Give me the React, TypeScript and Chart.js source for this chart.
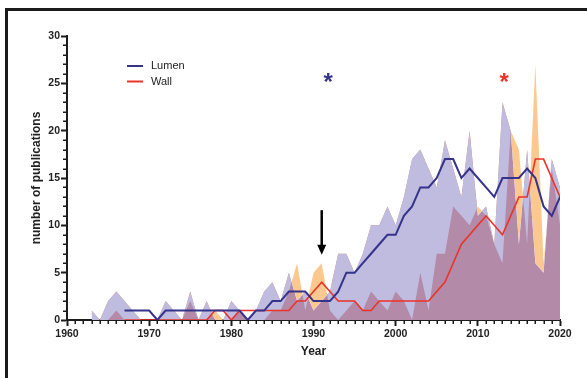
import React, { useEffect, useRef } from 'react';
import { Chart, registerables } from 'chart.js';

Chart.register(...registerables);

// ---- data ----
const countYears = [
  1963, 1964, 1965, 1966, 1967, 1968, 1969,
  1970, 1971, 1972, 1973, 1974, 1975, 1976, 1977, 1978, 1979,
  1980, 1981, 1982, 1983, 1984, 1985, 1986, 1987, 1988, 1989,
  1990, 1991, 1992, 1993, 1994, 1995, 1996, 1997, 1998, 1999,
  2000, 2001, 2002, 2003, 2004, 2005, 2006, 2007, 2008, 2009,
  2010, 2011, 2012, 2013, 2014, 2015, 2016, 2017, 2018, 2019, 2020,
];
const lumenCounts = [
  1, 0, 2, 3, 2, 1, 0,
  0, 0, 2, 1, 0, 3, 0, 2, 0, 0,
  2, 1, 0, 1, 3, 4, 2, 5, 2, 3,
  1, 2, 3, 7, 7, 5, 7, 10, 10, 12,
  10, 13, 17, 18, 16, 14, 19, 16, 13, 20,
  11, 12, 8, 23, 20, 8, 18, 6, 5, 17, 14,
];
const wallCounts = [
  0, 0, 0, 1, 0, 0, 0,
  0, 0, 0, 0, 0, 2, 0, 0, 1, 0,
  0, 1, 0, 0, 0, 1, 1, 3, 6, 1,
  5, 6, 1, 0, 1, 2, 1, 3, 2, 1,
  3, 2, 0, 5, 1, 7, 7, 12, 11, 10,
  12, 11, 8, 6, 20, 18, 8, 27, 6, 16, 10,
];
const averageYears = [
  1967, 1968, 1969,
  1970, 1971, 1972, 1973, 1974, 1975, 1976, 1977, 1978, 1979,
  1980, 1981, 1982, 1983, 1984, 1985, 1986, 1987, 1988, 1989,
  1990, 1991, 1992, 1993, 1994, 1995, 1996, 1997, 1998, 1999,
  2000, 2001, 2002, 2003, 2004, 2005, 2006, 2007, 2008, 2009,
  2010, 2011, 2012, 2013, 2014, 2015, 2016, 2017, 2018, 2019, 2020,
];
const lumenAverage = [
  1, 1, 1,
  1, 0, 1, 1, 1, 1, 1, 1, 1, 1,
  1, 1, 0, 1, 1, 2, 2, 3, 3, 3,
  2, 2, 2, 3, 5, 5, 6, 7, 8, 9,
  9, 11, 12, 14, 14, 15, 17, 17, 15, 16,
  15, 14, 13, 15, 15, 15, 16, 15, 12, 11, 13,
];
const wallAverage = [
  0, 0, 0,
  0, 0, 0, 0, 0, 0, 0, 0, 1, 1,
  0, 1, 1, 1, 1, 1, 1, 1, 2, 2,
  3, 4, 3, 2, 2, 2, 1, 1, 2, 2,
  2, 2, 2, 2, 2, 3, 4, 6, 8, 9,
  10, 11, 10, 9, 11, 13, 13, 17, 17, 15, 13,
];
const xTickValues = [1960, 1970, 1980, 1990, 2000, 2010, 2020];
const yTickValues = [0, 5, 10, 15, 20, 25, 30];
const seriesNames = ['Lumen', 'Wall'];
const asteriskYears = [1991.8, 2013.2];
const asteriskLevel = 25.8;
const arrowYear = 1991;
const arrowFrom = 11.6;
const arrowTo = 6.9;

// ---- styles ----
const NAVY = '#35338a';
const RED = '#ea3329';
const LAVENDER = '#bfbcdf';
const ORANGE = '#fbc98f';
const MAUVE = '#b38aa7';
const AXIS = '#1c1c1c';
const FONT = "'Liberation Sans', Arial, sans-serif";

const toPoints = (xs: number[], ys: number[]) => xs.map((x, i) => ({ x, y: ys[i] }));

const minorTicksPlugin = {
  id: 'minorTicks',
  afterDraw(chart: any) {
    const { ctx, scales, chartArea } = chart;
    const x = scales.x;
    const y = scales.y;
    ctx.save();
    ctx.strokeStyle = AXIS;
    ctx.lineWidth = 1.5;
    ctx.beginPath();
    for (let v = x.min; v <= x.max; v += 1) {
      if (v % 10 === 0) continue;
      const px = Math.round(x.getPixelForValue(v)) + 0.25;
      ctx.moveTo(px, chartArea.bottom);
      ctx.lineTo(px, chartArea.bottom + 4);
    }
    for (let v = y.min; v <= y.max; v += 1) {
      if (v % 5 === 0) continue;
      const py = Math.round(y.getPixelForValue(v)) + 0.25;
      ctx.moveTo(chartArea.left - 4, py);
      ctx.lineTo(chartArea.left, py);
    }
    ctx.stroke();
    ctx.restore();
  },
};

const annotationPlugin = {
  id: 'annotations',
  afterDatasetsDraw(chart: any) {
    const { ctx, scales, chartArea } = chart;
    const x = scales.x;
    const y = scales.y;
    ctx.save();
    // arrow
    const ax = x.getPixelForValue(arrowYear);
    const yTop = y.getPixelForValue(arrowFrom);
    const yTip = y.getPixelForValue(arrowTo);
    ctx.strokeStyle = '#000';
    ctx.fillStyle = '#000';
    ctx.lineWidth = 2.5;
    ctx.beginPath();
    ctx.moveTo(ax, yTop);
    ctx.lineTo(ax, yTip - 8);
    ctx.stroke();
    ctx.beginPath();
    ctx.moveTo(ax - 4.5, yTip - 10);
    ctx.lineTo(ax + 4.5, yTip - 10);
    ctx.lineTo(ax, yTip);
    ctx.closePath();
    ctx.fill();
    // asterisks
    const colors = [NAVY, RED];
    const size = 24;
    ctx.font = `bold ${size}px ${FONT}`;
    ctx.textAlign = 'center';
    ctx.textBaseline = 'alphabetic';
    asteriskYears.forEach((yr, i) => {
      ctx.fillStyle = colors[i];
      ctx.fillText('*', x.getPixelForValue(yr), y.getPixelForValue(asteriskLevel) + size * 0.58);
    });
    // legend
    const lx = chartArea.left + 60;
    const ly = chartArea.top + 30;
    const legendColors = [NAVY, RED];
    ctx.font = `11px ${FONT}`;
    ctx.textAlign = 'left';
    ctx.textBaseline = 'middle';
    seriesNames.forEach((name, i) => {
      const yy = ly + i * 15.5;
      ctx.strokeStyle = legendColors[i];
      ctx.lineWidth = 2;
      ctx.beginPath();
      ctx.moveTo(lx, yy);
      ctx.lineTo(lx + 16, yy);
      ctx.stroke();
      ctx.fillStyle = '#222';
      ctx.fillText(name, lx + 24, yy);
    });
    ctx.restore();
  },
};

export default function App() {
  const canvasRef = useRef<HTMLCanvasElement | null>(null);

  useEffect(() => {
    const canvas = canvasRef.current;
    if (!canvas) return;
    const chart = new Chart(canvas, {
      type: 'line',
      data: {
        datasets: [
          {
            label: seriesNames[0],
            data: toPoints(averageYears, lumenAverage),
            borderColor: NAVY,
            borderWidth: 2,
            pointRadius: 0,
            fill: false,
            tension: 0,
          },
          {
            label: seriesNames[1],
            data: toPoints(averageYears, wallAverage),
            borderColor: RED,
            borderWidth: 1.6,
            pointRadius: 0,
            fill: false,
            tension: 0,
          },
          {
            label: 'Wall counts',
            data: toPoints(countYears, wallCounts),
            borderWidth: 0,
            borderColor: 'rgba(0,0,0,0)',
            pointRadius: 0,
            fill: { target: '+1', above: ORANGE, below: LAVENDER },
            tension: 0,
          },
          {
            label: 'Lumen counts',
            data: toPoints(countYears, lumenCounts),
            borderWidth: 0,
            borderColor: 'rgba(0,0,0,0)',
            backgroundColor: MAUVE,
            pointRadius: 0,
            fill: 'origin',
            tension: 0,
          },
        ],
      },
      options: {
        animation: false,
        responsive: false,
        devicePixelRatio: 1,
        layout: { padding: { left: 0, right: 27, top: 36, bottom: 0 } },
        plugins: {
          legend: { display: false },
          tooltip: { enabled: false },
        },
        scales: {
          x: {
            type: 'linear',
            min: 1960,
            max: 2020,
            afterFit: (s: any) => { s.height = 58; },
            afterBuildTicks: (s: any) => { s.ticks = xTickValues.map((v) => ({ value: v })); },
            ticks: {
              callback: (v: any) => String(v),
              font: { family: FONT, size: 10.5, weight: 'bold' },
              color: '#222',
              padding: 2,
              maxRotation: 0,
            },
            grid: { drawOnChartArea: false, drawTicks: true, tickLength: 6, tickWidth: 2, tickColor: AXIS },
            border: { display: true, color: AXIS, width: 2 },
            title: {
              display: true,
              text: 'Year',
              font: { family: FONT, size: 12, weight: 'bold' },
              color: '#222',
              padding: { top: 0, bottom: 19 },
            },
          },
          y: {
            min: 0,
            max: 30,
            afterFit: (s: any) => { s.width = 67; },
            afterBuildTicks: (s: any) => { s.ticks = yTickValues.map((v) => ({ value: v })); },
            ticks: {
              callback: (v: any) => String(v),
              font: { family: FONT, size: 10.5, weight: 'bold' },
              color: '#222',
              padding: 1,
            },
            grid: { drawOnChartArea: false, drawTicks: true, tickLength: 6, tickWidth: 2, tickColor: AXIS },
            border: { display: true, color: AXIS, width: 2 },
            title: {
              display: true,
              text: 'number of publications',
              font: { family: FONT, size: 12, weight: 'bold' },
              color: '#222',
              padding: { top: 29, bottom: 0 },
            },
          },
        },
      },
      plugins: [minorTicksPlugin, annotationPlugin],
    } as any);
    return () => chart.destroy();
  }, []);

  return (
    <div style={{ position: 'fixed', left: 0, top: 0, width: 587, height: 378, overflow: 'hidden', background: '#fff' }}>
      <canvas ref={canvasRef} width={587} height={378} style={{ display: 'block', width: 587, height: 378 }} />
      <div
        style={{
          position: 'absolute',
          left: 5,
          top: 8,
          width: 620,
          height: 420,
          border: '3px solid #1b1b1b',
          pointerEvents: 'none',
        }}
      />
    </div>
  );
}
